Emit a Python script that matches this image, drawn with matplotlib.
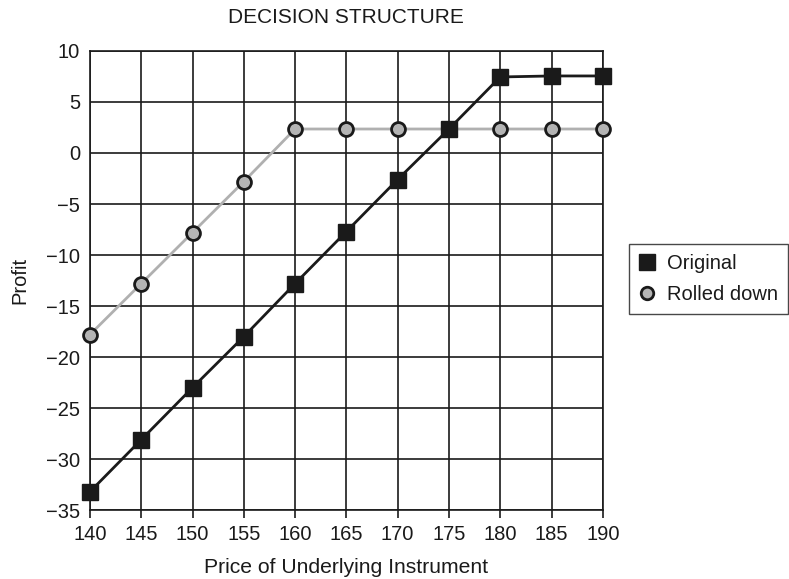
import matplotlib
matplotlib.use("Agg")
import matplotlib.pyplot as plt
from matplotlib.lines import Line2D

prices = [140, 145, 150, 155, 160, 165, 170, 175, 180, 185, 190]
original = [-33.2, -28.1, -23.0, -18.0, -12.8, -7.7, -2.6, 2.35, 7.45, 7.55, 7.55]
rolled_down = [-17.8, -12.8, -7.8, -2.8, 2.35, 2.35, 2.35, 2.35, 2.35, 2.35, 2.35]
xticks = [140, 145, 150, 155, 160, 165, 170, 175, 180, 185, 190]
yticks = [10, 5, 0, -5, -10, -15, -20, -25, -30, -35]

plt.rcParams['font.family'] = ['Liberation Sans', 'DejaVu Sans']

fig = plt.figure(figsize=(7.89, 5.79), dpi=100)
ax = fig.add_axes([0.114, 0.119, 0.650, 0.793])

ax.plot(prices, rolled_down, color='#b0b0b0', lw=2, marker='o', ms=10,
        mfc='#b4b4b4', mec='#1a1a1a', mew=2, clip_on=False, zorder=3,
        label='Rolled down')
ax.plot(prices, original, color='#1a1a1a', lw=2, marker='s', ms=11.5,
        mfc='#1a1a1a', mec='#1a1a1a', clip_on=False, zorder=4,
        label='Original')

ax.set_xlim(140, 190)
ax.set_ylim(-35, 10)
ax.set_xticks(xticks)
ax.set_yticks(yticks)
ax.set_yticklabels([str(v).replace('-', '\u2212') for v in yticks])
ax.grid(True, color='#1a1a1a', lw=1.2)
ax.set_axisbelow(True)
for s in ax.spines.values():
    s.set_color('#1a1a1a')
    s.set_linewidth(1.2)
ax.tick_params(labelsize=14.5, width=1.2, color='#1a1a1a', labelcolor='#1a1a1a')
ax.tick_params(axis='y', length=0, pad=7)
ax.tick_params(axis='x', direction='out', length=6, pad=5)

ax.set_title('DECISION STRUCTURE', fontsize=15, pad=20, color='#1a1a1a')
ax.set_xlabel('Price of Underlying Instrument', fontsize=15.2, labelpad=10, color='#1a1a1a')
ax.set_ylabel('Profit', fontsize=14.5, labelpad=12, color='#1a1a1a')

handles = [
    Line2D([], [], ls='none', marker='s', ms=11, mfc='#1a1a1a', mec='#1a1a1a'),
    Line2D([], [], ls='none', marker='o', ms=9, mfc='#b4b4b4', mec='#1a1a1a', mew=2),
]
leg = fig.legend(handles, ['Original', 'Rolled down'], loc='upper left',
                 bbox_to_anchor=(0.797, 0.579), borderaxespad=0, fontsize=14.5,
                 frameon=True, fancybox=False, edgecolor='#1a1a1a',
                 handlelength=0.8, handletextpad=0.6, borderpad=0.5,
                 labelspacing=0.6)
leg.get_frame().set_linewidth(1.0)
for t in leg.get_texts():
    t.set_color('#1a1a1a')

fig.savefig('out.png', dpi=100)
